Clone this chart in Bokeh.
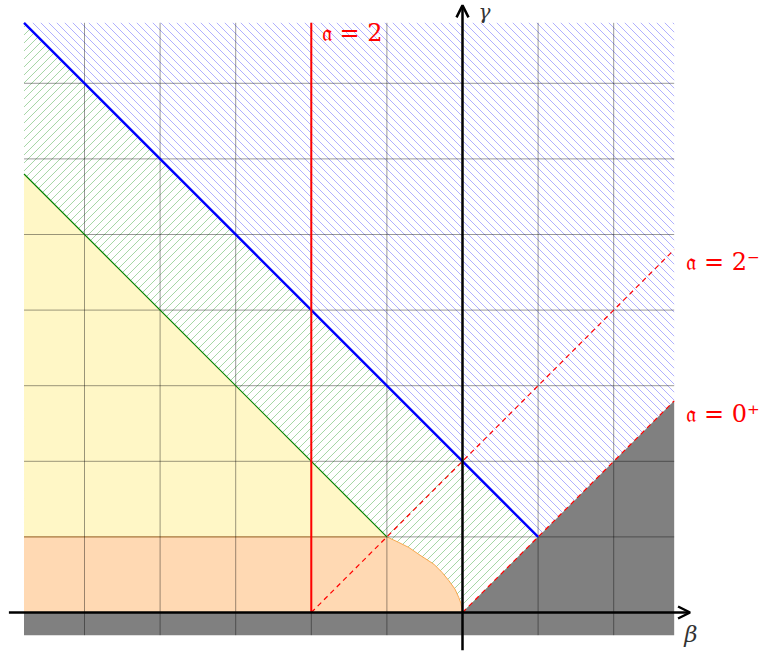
import numpy as np
from bokeh.plotting import figure
from bokeh.models import Range1d, Arrow, OpenHead
from bokeh.core.properties import value
from bokeh.embed import file_html
from bokeh.resources import INLINE

# ---- data (in beta / gamma units) ----
beta_min, beta_max = -5.8, 2.8
gamma_min, gamma_max = -0.3, 7.8
grid_beta = [-5, -4, -3, -2, -1, 0, 1, 2]
grid_gamma = [1, 2, 3, 4, 5, 6, 7]

# blue line gamma = 2 - beta (from top-left down to (1,1))
blue_beta = [-5.8, 1.0]
blue_gamma = [7.8, 1.0]
# green line gamma = -beta
green_beta = [-5.8, -1.0]
green_gamma = [5.8, 1.0]
# red vertical line a = 2
a2_beta = [-2.0, -2.0]
a2_gamma = [0.0, 7.8]
# dashed a = 2^-
a2m_beta = [-2.0, 2.8]
a2m_gamma = [0.0, 4.8]
# dashed a = 0^+
a0p_beta = [0.0, 2.8]
a0p_gamma = [0.0, 2.8]
# orange region boundary curve from (-1,1) to (0,0)
curve_beta = [-1.0, -0.85, -0.71, -0.55, -0.38, -0.27, -0.18, -0.10, -0.05, -0.02, 0.0]
curve_gamma = [1.0, 0.93, 0.86, 0.75, 0.64, 0.53, 0.42, 0.31, 0.20, 0.12, 0.0]

# regions
blue_reg_beta = [-5.8, 2.8, 2.8, 1.0]
blue_reg_gamma = [7.8, 7.8, 2.8, 1.0]
green_reg_beta = [-5.8, 1.0, 0.0, -5.8]
green_reg_gamma = [7.8, 1.0, 0.0, 0.0]
yellow_beta = [-5.8, -5.8, -1.0]
yellow_gamma = [1.0, 5.8, 1.0]
orange_beta = [-5.8, -5.8] + curve_beta
orange_gamma = [0.0, 1.0] + curve_gamma
gray_beta = [-5.8, 2.8, 2.8, 0.0, -5.8]
gray_gamma = [-0.3, -0.3, 2.8, 0.0, 0.0]

# axis arrows
xaxis_beta = [-6.0, 3.01]
yaxis_gamma = [-0.5, 8.03]

labels_text = ["\U0001D51E = 2", "\U0001D51E = 2\u207B", "\U0001D51E = 0\u207A"]
labels_beta = [-1.86, 2.96, 2.96]
labels_gamma = [7.67, 4.63, 2.63]

# ---- figure geometry ----
unit = 75.6
W, H = 768, 652
x0 = (0 - 462) / unit
y1 = (612 - 0) / unit
hatch_step = 8.0 / unit  # hatch spacing (horizontal), 8 px

p = figure(width=W, height=H, output_backend="svg", toolbar_location=None,
           x_range=Range1d(x0, x0 + W / unit), y_range=Range1d(y1 - H / unit, y1),
           x_axis_type=None, y_axis_type=None, min_border=0,
           outline_line_color=None, background_fill_color="white",
           border_fill_color="white")
p.grid.visible = False


def hatch_segments(px, py, sign):
    """45-degree hatch segments clipped to a convex polygon.
    sign=+1: rising lines (y - x = c); sign=-1: falling lines (y + x = c)."""
    pts = list(zip(px, py))
    vals = [y - sign * x for x, y in pts]
    cmin, cmax = min(vals), max(vals)
    k0, k1 = int(np.floor(cmin / hatch_step)), int(np.ceil(cmax / hatch_step))
    xs, ys = [], []
    n = len(pts)
    for k in range(k0, k1 + 1):
        c = k * hatch_step
        hits = []
        for i in range(n):
            (xa, ya), (xb, yb) = pts[i], pts[(i + 1) % n]
            fa = ya - sign * xa - c
            fb = yb - sign * xb - c
            if fa == fb:
                continue
            if fa * fb <= 0:
                t = fa / (fa - fb)
                hits.append((xa + t * (xb - xa), ya + t * (yb - ya)))
        if len(hits) >= 2:
            hits.sort()
            a, b = hits[0], hits[-1]
            if abs(b[0] - a[0]) > 1e-9:
                xs.append([a[0], b[0]])
                ys.append([a[1], b[1]])
    return xs, ys


# hatched regions (45 degree lines)
gx_, gy_ = hatch_segments(green_reg_beta, green_reg_gamma, +1)
p.multi_line(gx_, gy_, line_color="#a6d6a6", line_width=1.0)
bx_, by_ = hatch_segments(blue_reg_beta, blue_reg_gamma, -1)
p.multi_line(bx_, by_, line_color="#b0b0ff", line_width=1.0)

# filled regions
p.patch(yellow_beta, yellow_gamma, fill_color="#FFF7C6", line_color=None)
p.patch(orange_beta, orange_gamma, fill_color="#FFD9B3", line_color=None)
p.line([-5.8] + curve_beta, [1.0] + curve_gamma, line_color="#F7A94F", line_width=1)
p.patch(gray_beta, gray_gamma, fill_color="#808080", line_color=None)

# grid
for gx in grid_beta:
    p.line([gx, gx], [gamma_min, gamma_max], line_color="black", line_alpha=0.4, line_width=1)
for gy in grid_gamma:
    p.line([beta_min, beta_max], [gy, gy], line_color="black", line_alpha=0.4, line_width=1)

# boundary lines
p.line(green_beta, green_gamma, line_color="#008000", line_width=1.2)
p.line(blue_beta, blue_gamma, line_color="#0000FF", line_width=2.4)
p.line(a2_beta, a2_gamma, line_color="#FF0000", line_width=2)
p.line(a2m_beta, a2m_gamma, line_color="#FF0000", line_width=1.2, line_dash="5 4")
p.line(a0p_beta, a0p_gamma, line_color="#FF0000", line_width=1.2, line_dash="5 4")

# axes
p.add_layout(Arrow(end=OpenHead(size=12, line_width=2.5, line_color="black"),
                   x_start=xaxis_beta[0], y_start=0, x_end=xaxis_beta[1], y_end=0,
                   line_width=2.5, line_color="black"))
p.add_layout(Arrow(end=OpenHead(size=12, line_width=2.5, line_color="black"),
                   x_start=0, y_start=yaxis_gamma[0], x_end=0, y_end=yaxis_gamma[1],
                   line_width=2.5, line_color="black"))

# labels
p.text(labels_beta, labels_gamma, text=labels_text, text_color="#FF0000",
       text_font=value("DejaVu Serif"), text_font_size="24px",
       text_align="left", text_baseline="alphabetic")
p.text([3.02], [-0.28], text=["\u03B2"], text_color="#333333",
       text_font=value("DejaVu Serif"), text_font_style="italic",
       text_font_size="23px", text_align="center", text_baseline="middle")
p.text([0.29], [7.94], text=["\u03B3"], text_color="#333333",
       text_font=value("DejaVu Serif"), text_font_style="italic",
       text_font_size="20px", text_align="center", text_baseline="middle")

open("out.html", "w").write(file_html(p, INLINE))
